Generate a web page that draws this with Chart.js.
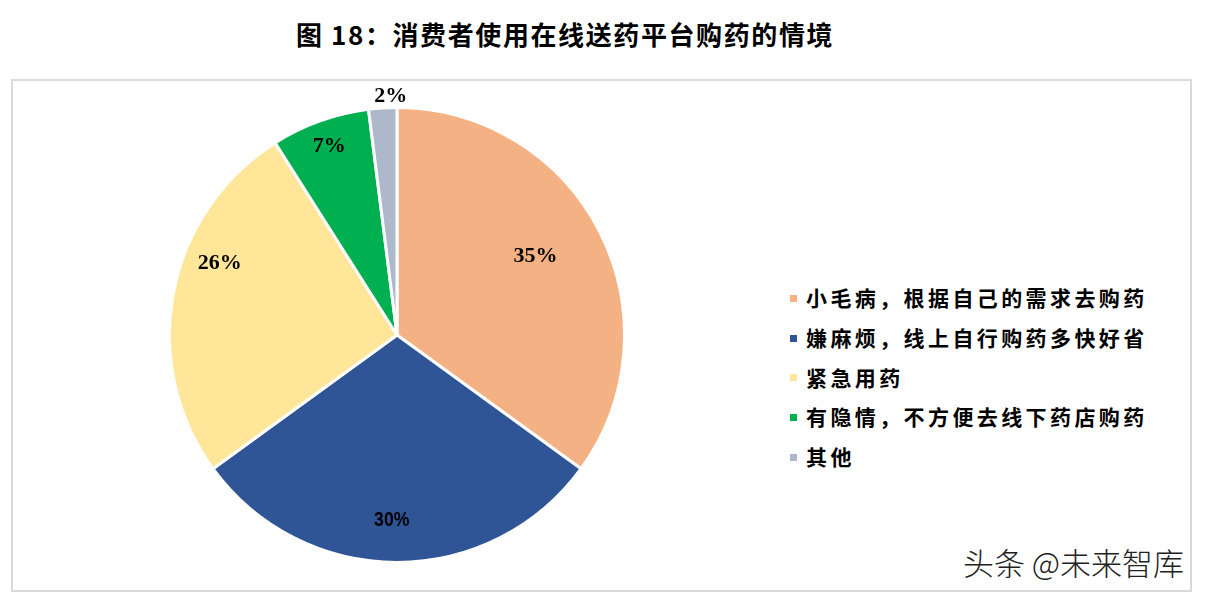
<!DOCTYPE html>
<html>
<head>
<meta charset="utf-8">
<script src="https://cdn.jsdelivr.net/npm/chart.js@4/dist/chart.umd.min.js"></script>
<style>
  html, body { margin: 0; padding: 0; background: #fff; }
  body { width: 1205px; height: 595px; position: relative; overflow: hidden; }
  #title {
    position: absolute; left: 0; top: 15px; width: 1130px; text-align: center;
    font-family: "Noto Sans CJK SC", "Liberation Serif", serif; font-weight: bold;
    font-size: 26px; color: #000; letter-spacing: 1.6px;
  }
  #frame {
    position: absolute; left: 11px; top: 79px; width: 1177px; height: 509px;
    border: 2px solid #d9d9d9;
  }
  #pieWrap { position: absolute; left: 137px; top: 75px; width: 520px; height: 520px; }
  #legend {
    position: absolute; left: 790px; top: 280px; margin: 0; padding: 0; list-style: none;
    font-family: "Noto Sans CJK SC", sans-serif; font-weight: bold; font-size: 21px;
    letter-spacing: 3.4px; color: #000;
  }
  #legend li { height: 39.8px; line-height: 34px; white-space: nowrap; }
  #legend span.box { display: inline-block; width: 7px; height: 7px; margin-right: 9px; vertical-align: middle; position: relative; top: -2px; }
  #mark {
    position: absolute; left: 963px; top: 539px;
    font-family: "Noto Sans CJK SC", sans-serif; font-weight: 300; font-size: 31px; color: #222;
  }
</style>
</head>
<body>
<div id="title">图 18：消费者使用在线送药平台购药的情境</div>
<div id="frame"></div>
<div id="pieWrap"><canvas id="pieChart" width="520" height="520"></canvas></div>
<ul id="legend"></ul>
<div id="mark">头条 @未来智库</div>
<script>
"use strict";

const labels = ['小毛病，根据自己的需求去购药', '嫌麻烦，线上自行购药多快好省', '紧急用药', '有隐情，不方便去线下药店购药', '其他'];
const shares = [35, 30, 26, 7, 2];
const colors = ['#F4B183', '#2F5597', '#FFE699', '#00B050', '#ADB9CA'];

// where each percentage label sits: fraction along the slice, and share of the radius
const labelSpot = [0.48, 0.515, 0.62, 0.50, 0.79];
const labelRadius = [0.70, 0.815, 0.84, 0.88, 1.05];

const legendList = document.getElementById('legend');
labels.forEach((name, i) => {
    const li = document.createElement('li');
    const box = document.createElement('span');
    box.className = 'box';
    box.style.background = colors[i];
    li.appendChild(box);
    li.appendChild(document.createTextNode(name));
    legendList.appendChild(li);
});

const pctLabels = {
    id: 'pctLabels',
    afterDatasetsDraw(chart) {
        const ctx = chart.ctx;
        const arcs = chart.getDatasetMeta(0).data;
        ctx.save();
        ctx.textAlign = 'center';
        ctx.textBaseline = 'middle';
        ctx.fillStyle = '#000';
        arcs.forEach((arc, i) => {
            const p = arc.getProps(['x', 'y', 'startAngle', 'endAngle', 'outerRadius'], true);
            const ang = p.startAngle + (p.endAngle - p.startAngle) * labelSpot[i];
            const r = p.outerRadius * labelRadius[i];
            const x = p.x + Math.cos(ang) * r;
            const y = p.y + Math.sin(ang) * r;
            if (i === 1) {
                // the 30% label uses a narrow sans face in the original
                ctx.save();
                ctx.translate(x, y);
                ctx.scale(0.84, 1);
                ctx.font = 'bold 21px "Liberation Sans", sans-serif';
                ctx.fillText(shares[i] + '%', 0, 0);
                ctx.restore();
            } else {
                ctx.font = 'bold 22px "Liberation Serif", serif';
                ctx.fillText(shares[i] + '%', x, y);
            }
        });
        ctx.restore();
    }
};

new Chart(document.getElementById('pieChart'), {
    type: 'pie',
    data: {
        labels: labels,
        datasets: [{
            data: shares,
            backgroundColor: colors,
            borderColor: '#ffffff',
            borderWidth: 3
        }]
    },
    options: {
        responsive: false,
        animation: false,
        layout: { padding: 31 },
        plugins: {
            legend: { display: false },
            tooltip: { enabled: false }
        }
    },
    plugins: [pctLabels]
});
</script>
</body>
</html>
